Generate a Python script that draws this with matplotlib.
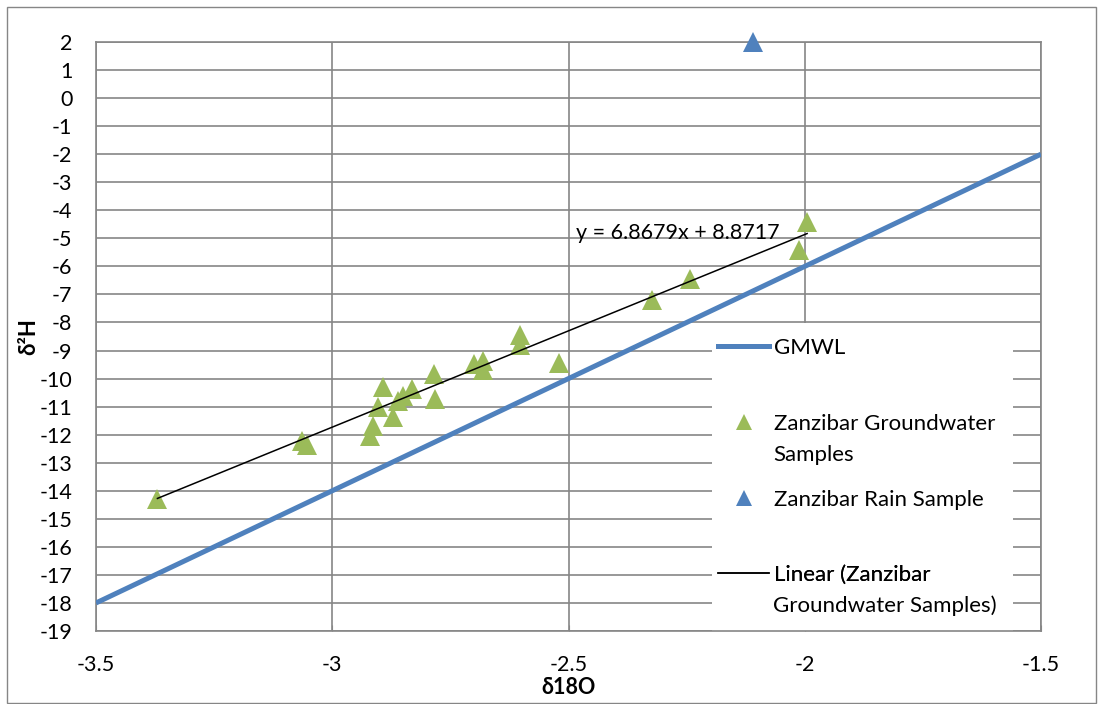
#!/usr/bin/env python3
"""Zanzibar stable isotopes: d18O vs d2H with GMWL and trendline."""

import matplotlib
matplotlib.use('Agg')
import matplotlib.pyplot as plt
from matplotlib.lines import Line2D
from matplotlib.patches import Rectangle
import numpy as np

# Data
gw_d18o = [-3.370, -3.064, -3.053, -2.920, -2.913, -2.903, -2.892, -2.872,
           -2.860, -2.850, -2.831, -2.785, -2.783, -2.701, -2.682, -2.682,
           -2.603, -2.603, -2.520, -2.323, -2.243, -2.012, -1.995]
gw_d2h = [-14.29, -12.21, -12.36, -12.04, -11.68, -11.02, -10.31, -11.38,
          -10.79, -10.61, -10.37, -9.83, -10.73, -9.48, -9.36, -9.71,
          -8.46, -8.82, -9.44, -7.21, -6.44, -5.43, -4.42]
rain_d18o = [-2.11]
rain_d2h = [2.0]

# GMWL: d2H = 8 * d18O + 10
gmwl_slope, gmwl_intercept = 8.0, 10.0
gmwl_x = [-3.5, -1.5]

# Excel trendline for groundwater samples
trend_slope, trend_intercept = 6.8679, 8.8717
trend_label = 'y = 6.8679x + 8.8717'

x_ticks = [-3.5, -3.0, -2.5, -2.0, -1.5]
x_ticklabels = ['-3.5', '-3', '-2.5', '-2', '-1.5']
y_ticks = list(range(-19, 3))

colors = {
    'green': '#9BBB59',
    'blue': '#4F81BD',
    'grid': '#868686',
    'text': '#000000',
}

plt.rcParams['font.family'] = ['Lato', 'DejaVu Sans']
plt.rcParams['axes.unicode_minus'] = False

W, H = 1101, 704
fig = plt.figure(figsize=(W / 100, H / 100), dpi=100, facecolor='white')
ax = fig.add_axes([96 / W, 1 - 631 / H, 945 / W, 589 / H])

# GMWL
gx = np.array(gmwl_x)
ax.plot(gx, gmwl_slope * gx + gmwl_intercept, color=colors['blue'],
        linewidth=3.6, solid_capstyle='butt', zorder=3)

# Trendline from min to max of groundwater samples
tx = np.array([min(gw_d18o), max(gw_d18o)])
ax.plot(tx, trend_slope * tx + trend_intercept, color='black', linewidth=1.1, zorder=5)

# Samples
ax.plot(gw_d18o, gw_d2h, linestyle='none', marker='^', markersize=14,
        color=colors['green'], markeredgewidth=0, zorder=4)
ax.plot(rain_d18o, rain_d2h, linestyle='none', marker='^', markersize=14,
        color=colors['blue'], markeredgewidth=0, zorder=4, clip_on=False)

ax.text(-2.484, -4.82, trend_label, ha='left', va='center', fontsize=15.5, zorder=6)

# Axes styling
ax.set_xlim(-3.5, -1.5)
ax.set_ylim(-19, 2)
ax.set_xticks(x_ticks)
ax.set_xticklabels(x_ticklabels)
ax.set_yticks(y_ticks)
ax.grid(True, color=colors['grid'], linewidth=1.2)
ax.set_axisbelow(True)
for spine in ax.spines.values():
    spine.set_edgecolor(colors['grid'])
    spine.set_linewidth(1.2)
ax.tick_params(axis='x', direction='in', length=4, color=colors['grid'],
               labelsize=15.5, pad=17)
ax.tick_params(axis='y', length=0, labelsize=15.5, pad=17)

ax.set_xlabel('δ18O', fontsize=15.5, fontweight='bold', labelpad=2)
ax.set_ylabel('δ²H', fontsize=16, fontweight='bold', labelpad=0)

# Legend area (white box over gridlines)
lx0 = (712 - 96) / 945
ax.add_patch(Rectangle((lx0, 0.0), (1013 - 712) / 945, (631 - 323) / 589,
                       transform=ax.transAxes, facecolor='white',
                       edgecolor='none', zorder=2.5))

# (handle, first line, second line, y of first line in px)
entries = [
    (Line2D([], [], color=colors['blue'], linewidth=3.6), 'GMWL', None, 348),
    (Line2D([], [], linestyle='none', marker='^', markersize=11,
            color=colors['green'], markeredgewidth=0),
     'Zanzibar Groundwater', 'Samples', 424),
    (Line2D([], [], linestyle='none', marker='^', markersize=11,
            color=colors['blue'], markeredgewidth=0),
     'Zanzibar Rain Sample', None, 500),
    (Line2D([], [], color='black', linewidth=1.1),
     'Linear (Zanzibar', 'Groundwater Samples)', 575),
]
hx = (718 - 96) / 945
tx0 = (773 - 96) / 945
for handle, line1, line2, ypx in entries:
    leg = ax.legend([handle], [line1], loc='center left',
                    bbox_to_anchor=(hx, (631 - ypx) / 589),
                    frameon=False, fontsize=16, handlelength=2.3,
                    handletextpad=0.2, borderpad=0, borderaxespad=0)
    leg.set_zorder(7)
    ax.add_artist(leg)
    if line2:
        ax.text(tx0, (631 - ypx - 31) / 589, line2, transform=ax.transAxes,
                ha='left', va='center', fontsize=16, zorder=7)

# Chart area border
fig.patches.append(Rectangle((7 / W, 1 / H), (W - 12) / W, (H - 8) / H,
                             transform=fig.transFigure, fill=False,
                             edgecolor=colors['grid'], linewidth=1))

fig.savefig('out.png', dpi=100, facecolor='white')
